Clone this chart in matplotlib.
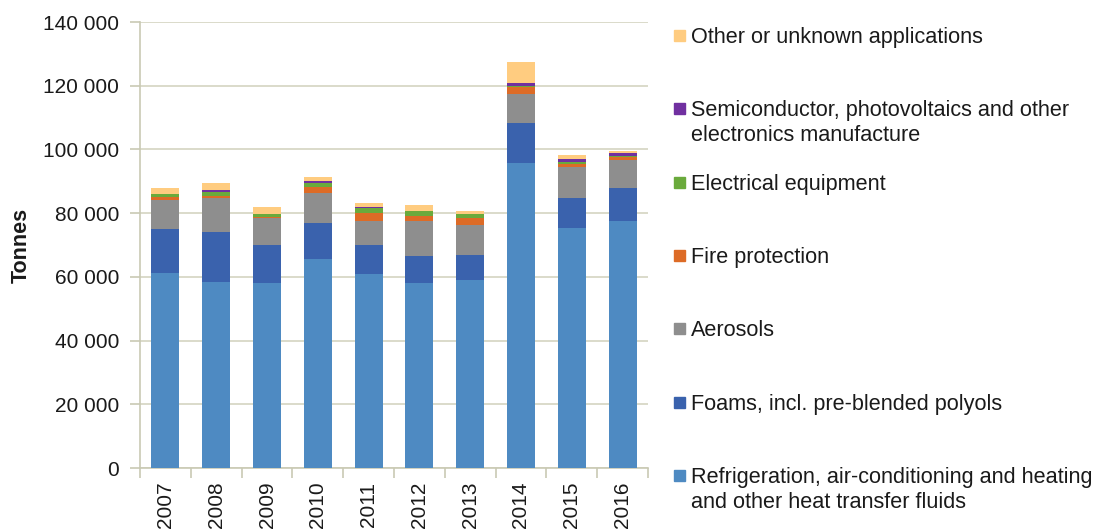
import numpy as np
import matplotlib.pyplot as plt
from matplotlib.ticker import FuncFormatter, FixedLocator
from matplotlib.patches import Rectangle

plt.rcParams['font.family'] = ['Liberation Sans', 'DejaVu Sans']

years = ['2007', '2008', '2009', '2010', '2011', '2012', '2013', '2014', '2015', '2016']

# tonnes (thousands)
refrigeration = [61.2, 58.5, 58.0, 65.6, 60.8, 58.2, 59.0, 95.6, 75.4, 77.6]
foams = [13.8, 15.5, 11.9, 11.2, 9.1, 8.2, 8.0, 12.8, 9.4, 10.2]
aerosols = [9.0, 10.6, 8.7, 9.6, 7.6, 11.1, 9.3, 8.9, 9.8, 8.9]
fire = [1.0, 0.9, 0.3, 1.9, 2.6, 1.5, 2.1, 2.2, 0.8, 0.8]
electrical = [0.9, 1.2, 0.8, 1.3, 1.6, 1.6, 1.3, 0.4, 0.7, 0.5]
semiconductor = [0.2, 0.6, 0.1, 0.5, 0.1, 0.1, 0.1, 0.8, 0.9, 1.0]
other = [1.9, 2.1, 2.1, 1.1, 1.4, 1.8, 1.0, 6.8, 1.2, 0.5]

series = [refrigeration, foams, aerosols, fire, electrical, semiconductor, other]
labels = ['Refrigeration, air-conditioning and heating\nand other heat transfer fluids',
          'Foams, incl. pre-blended polyols',
          'Aerosols',
          'Fire protection',
          'Electrical equipment',
          'Semiconductor, photovoltaics and other\nelectronics manufacture',
          'Other or unknown applications']
colors = ['#4e8ac2', '#3a62ad', '#8e8e8e', '#dd6b26', '#6aaa3c', '#7030a0', '#ffcc80']

axis_col = '#c9c9b4'
text_col = '#1a1a1a'

fig = plt.figure(figsize=(10.99, 5.29), dpi=100)
ax = fig.add_axes([0.1274, 0.1153, 0.4622, 0.8431])

x = np.arange(len(years))
bottom = np.zeros(len(years))
for vals, col in zip(series, colors):
    v = np.array(vals) * 1000
    ax.bar(x, v, 0.55, bottom=bottom, color=col, zorder=3)
    bottom += v

ax.set_xlim(-0.5, len(years) - 0.5)
ax.set_ylim(0, 140000)
ax.set_yticks(np.arange(0, 140001, 20000))
ax.yaxis.set_major_formatter(FuncFormatter(lambda v, p: f'{int(v):,}'.replace(',', ' ')))
ax.grid(axis='y', color='#d8d8c6', linewidth=1.3, zorder=0)

ax.set_xticks(x)
ax.set_xticklabels(years, rotation=90, fontsize=15, color=text_col)
ax.xaxis.set_minor_locator(FixedLocator(np.arange(-0.5, len(years), 1)))
ax.tick_params(axis='x', which='major', length=0, pad=14)
ax.tick_params(axis='x', which='minor', length=7, color=axis_col, width=1.2)
ax.tick_params(axis='y', length=7, color=axis_col, width=1.2, labelsize=15,
               labelcolor=text_col, pad=8)
for t in ax.get_xticklabels():
    t.set_y(0.013)

for s in ['top', 'right']:
    ax.spines[s].set_visible(False)
for s in ['left', 'bottom']:
    ax.spines[s].set_color(axis_col)
    ax.spines[s].set_linewidth(1.2)

ax.set_ylabel('Tonnes', fontsize=15.5, fontweight='bold', color=text_col, labelpad=8)

# legend, top to bottom in reverse stack order
W, H = 1099, 529
ys = [35, 108, 182, 255, 328, 402, 475]
for yy, lab, col in zip(ys, labels[::-1], colors[::-1]):
    fig.patches.append(Rectangle((674 / W, (H - yy - 5.5) / H), 11 / W, 11 / H,
                                 transform=fig.transFigure, color=col, figure=fig))
    fig.text(691 / W, (H - yy + 8) / H, lab, fontsize=15.6, color=text_col,
             va='top', ha='left', linespacing=1.28)

fig.savefig('out.png', dpi=100)
